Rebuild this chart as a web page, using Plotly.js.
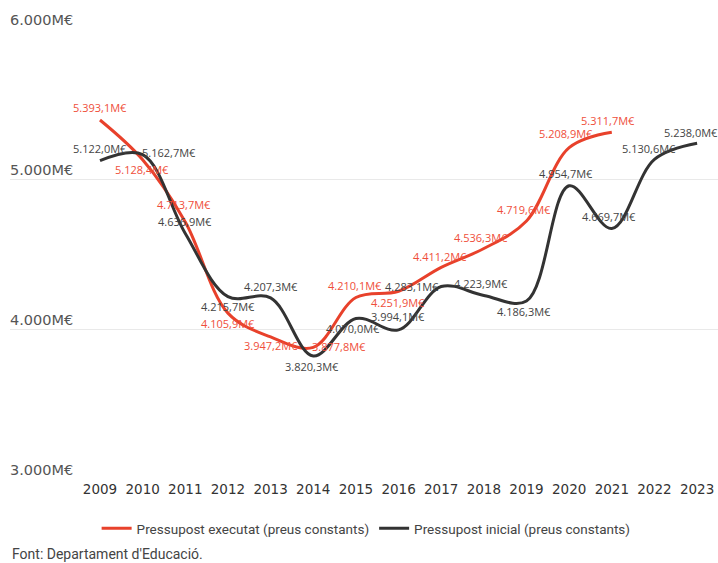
<!DOCTYPE html>
<html>
<head>
<meta charset="utf-8">
<script src="https://cdn.plot.ly/plotly-3.0.1.min.js"></script>
<style>html,body{margin:0;padding:0;background:#fff;}#chart{width:718px;height:563px;}</style>
</head>
<body>
<div id="chart"></div>
<script>
const yearsExec = [2009, 2010, 2011, 2012, 2013, 2014, 2015, 2016, 2017, 2018, 2019, 2020, 2021];
const execValues = [5393.1, 5128.4, 4713.7, 4105.9, 3947.2, 3877.8, 4210.1, 4251.9, 4411.2, 4536.3, 4719.6, 5208.9, 5311.7];
const yearsInit = [2009, 2010, 2011, 2012, 2013, 2014, 2015, 2016, 2017, 2018, 2019, 2020, 2021, 2022, 2023];
const initValues = [5122.0, 5162.7, 4636.9, 4215.7, 4207.3, 3820.3, 4070.0, 3994.1, 4283.1, 4223.9, 4186.3, 4954.7, 4669.7, 5130.6, 5238.0];
const yTicks = [3000, 4000, 5000, 6000];
const yTickLabels = ['3.000M€', '4.000M€', '5.000M€', '6.000M€'];
const seriesNames = ['Pressupost executat (preus constants)', 'Pressupost inicial (preus constants)'];
const sourceText = "Font: Departament d'Educació.";

// label placement offsets (px) relative to each point: [dx, dy(up)]
const execLabelOffsets = [[0,13],[-1,-10],[-1,17],[0,-10],[0,-9],[26,1],[-1,12],[-1,-11],[-1,11],[-3,11],[-3,12],[-3,14],[-4,12]];
const initLabelOffsets = [[0,12],[26,2],[0,12],[0,-10],[0,11],[-1,-11],[-3,-10],[-1,13],[-29,0],[-3,12],[-3,-10],[-3,12],[-3,12],[-5,11],[-6,11]];

function fmt(v) {
  const s = v.toFixed(1).split('.');
  const intPart = s[0].replace(/\B(?=(\d{3})+(?!\d))/g, '.');
  return intPart + ',' + s[1] + 'M€';
}

const RED = '#e8412b';
const DARK = '#333333';
const RED_TXT = '#ef4e3a';
const DARK_TXT = '#444444';

const traces = [
  {
    x: yearsExec, y: execValues, name: seriesNames[0], type: 'scatter', mode: 'lines',
    line: {color: RED, width: 3, shape: 'spline', smoothing: 1},
    hoverinfo: 'x+y'
  },
  {
    x: yearsInit, y: initValues, name: seriesNames[1], type: 'scatter', mode: 'lines',
    line: {color: DARK, width: 3, shape: 'spline', smoothing: 1},
    hoverinfo: 'x+y'
  }
];

function labelAnns(xs, ys, offs, color) {
  return xs.map((x, i) => ({
    x: x, y: ys[i], xref: 'x', yref: 'y', text: fmt(ys[i]), showarrow: false,
    xanchor: 'center', yanchor: 'middle', xshift: offs[i][0], yshift: offs[i][1],
    font: {family: '"Open Sans", sans-serif', size: 11, color: color}
  }));
}

const yLabelAnns = yTicks.map((v, i) => ({
  x: 0, xref: 'paper', y: v, yref: 'y', text: yTickLabels[i], showarrow: false,
  xanchor: 'left', yanchor: 'middle', xshift: -2, yshift: 9,
  font: {family: '"DejaVu Sans", sans-serif', size: 14.5, color: '#555'}
}));

const annotations = []
  .concat(yLabelAnns)
  .concat(labelAnns(yearsExec, execValues, execLabelOffsets, RED_TXT))
  .concat(labelAnns(yearsInit, initValues, initLabelOffsets, DARK_TXT))
  .concat([{
    text: sourceText, xref: 'paper', yref: 'paper', x: 0, y: -0.166,
    xanchor: 'left', yanchor: 'middle', showarrow: false,
    font: {family: 'Roboto, sans-serif', size: 14, color: '#444'}
  }]);

const layout = {
  width: 718, height: 563,
  margin: {l: 10, r: 0, t: 29, b: 84},
  paper_bgcolor: '#fff', plot_bgcolor: '#fff',
  showlegend: true,
  xaxis: {
    range: [2006.89, 2023.49], tickmode: 'array', tickvals: yearsInit, ticktext: yearsInit.map(String),
    showgrid: false, zeroline: false, showline: false, ticks: '',
    tickfont: {family: '"DejaVu Sans", sans-serif', size: 13.5, color: '#333'}
  },
  yaxis: {
    range: [3000, 6000], tickmode: 'array', tickvals: yTicks,
    showticklabels: false, showgrid: true, gridcolor: '#e9e9e9', gridwidth: 1,
    zeroline: false, showline: false, ticks: ''
  },
  legend: {
    orientation: 'h', x: 0.503, xanchor: 'center', y: -0.11, yanchor: 'middle',
    font: {family: 'Roboto, sans-serif', size: 13.5, color: '#444'}
  },
  annotations: annotations
};

Plotly.newPlot('chart', traces, layout, {displayModeBar: false, staticPlot: true});
</script>
</body>
</html>
